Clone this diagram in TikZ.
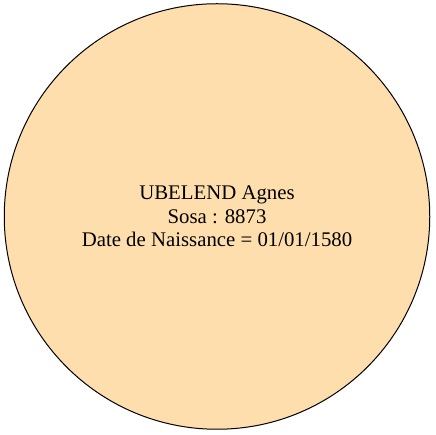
\documentclass[tikz,border=0pt]{standalone}
\usepackage{fontspec}
\setmainfont{Liberation Serif}
\begin{document}
\begin{tikzpicture}[
        x=1pt, y=1pt,
        person/.style={circle, draw=black, fill=navajowhite, line width=1pt, minimum size=425.5pt, inner sep=0pt, align=center, font=\rmfamily\fontsize{20.8}{23.5}\selectfont}
    ]
        \definecolor{navajowhite}{RGB}{255,222,173}
        % canvas
        \useasboundingbox (0,0) rectangle (435,435);
        
        % person
        \node[person] (agnes) at (217,218.5) {UBELEND Agnes \\ Sosa : 8873 \\ Date de Naissance = 01/01/1580};
    \end{tikzpicture}
\end{document}
